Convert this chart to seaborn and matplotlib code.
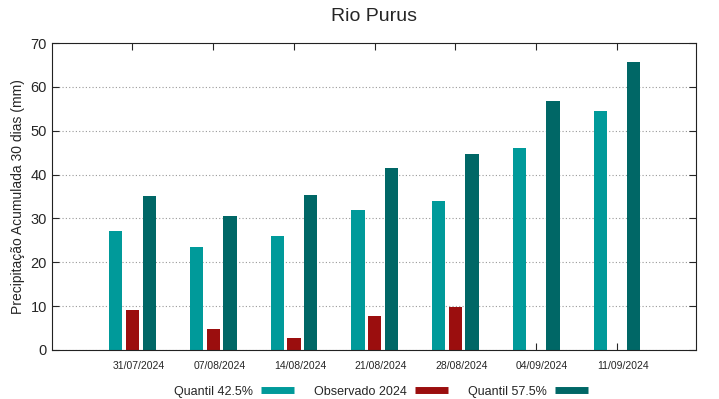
import matplotlib
matplotlib.use("Agg")
import matplotlib.pyplot as plt
import matplotlib.transforms as mtrans
import seaborn as sb
import numpy as np
import pandas as pd
from matplotlib.lines import Line2D

# data
datas = ["31/07/2024", "07/08/2024", "14/08/2024", "21/08/2024",
         "28/08/2024", "04/09/2024", "11/09/2024"]
q425 = [27.2, 23.4, 25.9, 31.9, 33.9, 46.1, 54.6]
obs2024 = [9.1, 4.8, 2.8, 7.8, 9.9, np.nan, np.nan]
q575 = [35.2, 30.6, 35.3, 41.5, 44.7, 56.7, 65.8]
series = ["Quantil 42.5%", "Observado 2024", "Quantil 57.5%"]
cores = ["#009a9a", "#9b0e0e", "#006766"]

# long format for seaborn
df = pd.DataFrame({"data": datas * 3,
                   "serie": np.repeat(series, len(datas)),
                   "valor": q425 + obs2024 + q575})

sb.set_style("ticks")
plt.rcParams['font.family'] = ['Liberation Sans', 'DejaVu Sans']

fig, ax = plt.subplots(figsize=(7.19, 3.99), dpi=100)
fig.subplots_adjust(left=0.072, right=0.968, top=0.892, bottom=0.123)

sb.barplot(data=df, x="data", y="valor", hue="serie", hue_order=series,
           palette=cores, width=0.62, gap=0.2, saturation=1,
           edgecolor="none", legend=False, ax=ax)

ax.set_xlim(-1.0, 6.98)
ax.set_ylim(0, 70)
ax.set_yticks(range(0, 71, 10))
ax.yaxis.grid(True, linestyle=(0, (1, 2)), color="#999999", linewidth=0.8)
ax.set_axisbelow(True)
ax.tick_params(axis="both", direction="in", top=True, right=True, length=5, width=0.8)
ax.tick_params(axis="y", labelsize=10.5)
ax.tick_params(axis="x", labelsize=7.5, pad=8)
# gnuplot-style labels sit a little right of the tick
shift = mtrans.ScaledTranslation(6 / 100, 0, fig.dpi_scale_trans)
for lab in ax.get_xticklabels():
    lab.set_transform(lab.get_transform() + shift)
for s in ax.spines.values():
    s.set_linewidth(0.8)
    s.set_color("#222222")

ax.set_xlabel("")
ax.set_ylabel("Precipitação Acumulada 30 dias (mm)", fontsize=10)
ax.set_title("Rio Purus", fontsize=14, pad=16)

handles = [Line2D([0], [0], color=c, linewidth=5, solid_capstyle="butt") for c in cores]
fig.legend(handles, series, loc="lower center", bbox_to_anchor=(0.53, -0.025),
           ncol=3, frameon=False, markerfirst=False, fontsize=9,
           handlelength=2.64, columnspacing=1.6, handletextpad=0.64)

plt.savefig("out.png", dpi=100)
